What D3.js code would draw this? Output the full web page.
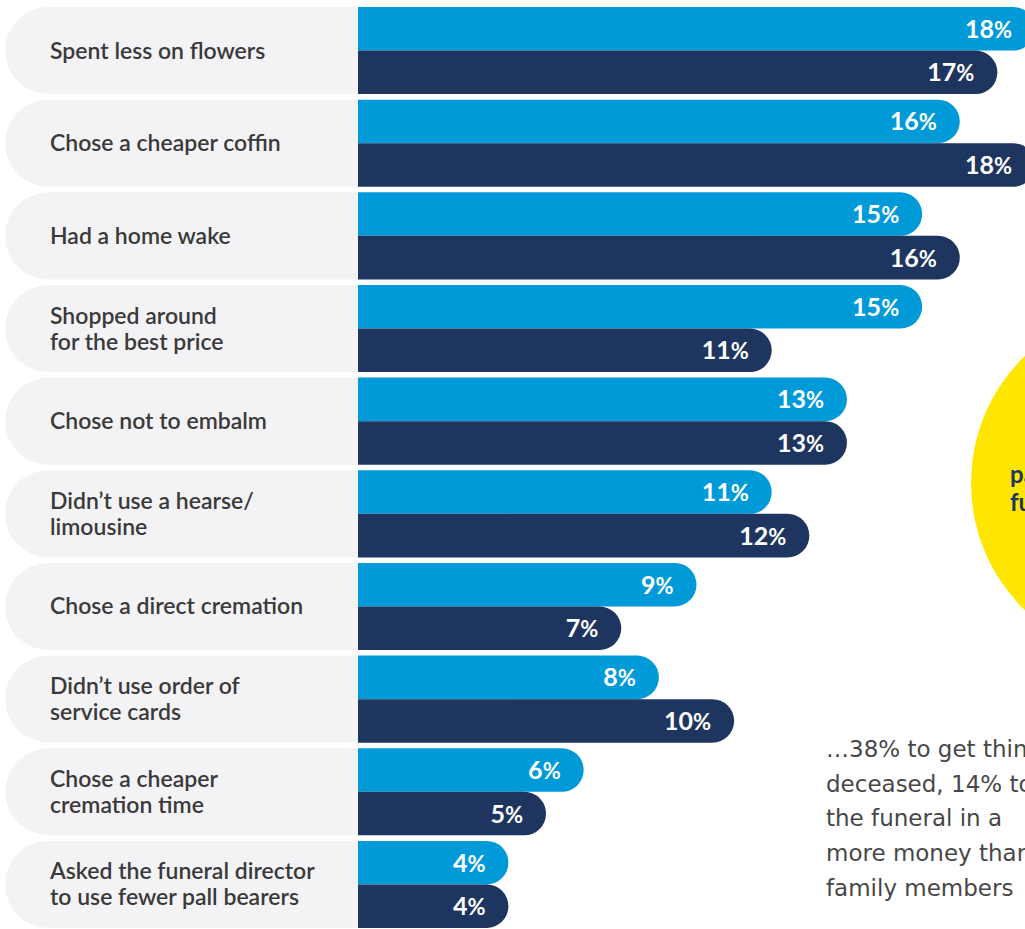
<!DOCTYPE html>
<html>
<head>
<meta charset="utf-8">
<script src="https://cdn.jsdelivr.net/npm/d3@7"></script>
<style>
  body { margin: 0; background: #fff; }
  svg { display: block; }
</style>
</head>
<body>
<div id="chart"></div>
<script>
// data
var categories = [
    "Spent less on flowers",
    "Chose a cheaper coffin",
    "Had a home wake",
    "Shopped around\nfor the best price",
    "Chose not to embalm",
    "Didn\u2019t use a hearse/\nlimousine",
    "Chose a direct cremation",
    "Didn\u2019t use order of\nservice cards",
    "Chose a cheaper\ncremation time",
    "Asked the funeral director\nto use fewer pall bearers"
];
var seriesNames = ["lightBlue", "navy"];
var lightBlueValues = [18, 16, 15, 15, 13, 11, 9, 8, 6, 4];
var navyValues = [17, 18, 16, 11, 13, 12, 7, 10, 5, 4];
var calloutLines = ["pay for the", "funeral"];
var noteLines = ["\u202638% to get things", "deceased, 14% to", "the funeral in a", "more money than", "family members"];

var svgWidth = 1025;
var svgHeight = 929;
var colors = { lightBlue: "#009ad9", navy: "#1e3560" };

var svg = d3.select("#chart")
    .append("svg")
    .attr("width", svgWidth)
    .attr("height", svgHeight);

var data = categories.map((c, i) => ({
    category: c,
    values: [
        { key: "lightBlue", value: lightBlueValues[i] },
        { key: "navy", value: navyValues[i] }
    ]
}));

// scales
var xScale = d3.scaleLinear()
    .domain([0, 18])
    .range([358, 1035]);

var yScale = d3.scaleBand()
    .domain(categories)
    .range([7, 928])
    .paddingInner(0.06)
    .paddingOuter(0);

var ySub = d3.scaleBand()
    .domain(seriesNames)
    .range([0, yScale.bandwidth()]);

// yellow callout circle (behind)
svg.append("circle")
    .attr("cx", 1148)
    .attr("cy", 483)
    .attr("r", 177)
    .attr("fill", "#ffe600");

svg.append("text")
    .attr("x", 1010)
    .attr("y", 483)
    .attr("fill", "#1e3560")
    .style("font-family", "Lato, sans-serif")
    .style("font-weight", 700)
    .style("font-size", "24px")
    .selectAll("tspan")
    .data(calloutLines)
    .enter()
    .append("tspan")
    .attr("x", 1010)
    .attr("dy", (d, i) => i === 0 ? 0 : 28)
    .text(d => d);

// note text bottom right
svg.append("text")
    .attr("x", 826)
    .attr("y", 757)
    .attr("fill", "#474747")
    .style("font-family", "'DejaVu Sans', sans-serif")
    .style("font-size", "23px")
    .selectAll("tspan")
    .data(noteLines)
    .enter()
    .append("tspan")
    .attr("x", 826)
    .attr("dy", (d, i) => i === 0 ? 0 : 34.7)
    .text(d => d);

// rows
var rows = svg.selectAll(".row")
    .data(data)
    .enter()
    .append("g")
    .attr("class", "row")
    .attr("transform", d => `translate(0, ${yScale(d.category)})`);

var h = yScale.bandwidth();

// grey label pill with rounded left end
rows.append("path")
    .attr("d", () => {
        var r = h / 2;
        var x0 = 5, x1 = xScale(0);
        return `M${x1},0 H${x0 + r} A${r},${r} 0 0 0 ${x0 + r},${h} H${x1} Z`;
    })
    .attr("fill", "#f3f3f5");

// category labels
rows.append("text")
    .attr("fill", "#3a3a3a")
    .style("font-family", "Lato, sans-serif")
    .style("font-weight", 600)
    .style("font-size", "23px")
    .each(function (d) {
        var lines = d.category.split("\n");
        var lh = 26;
        var first = h / 2 - (lines.length - 1) * lh / 2 + 8;
        d3.select(this).selectAll("tspan")
            .data(lines)
            .enter()
            .append("tspan")
            .attr("x", 50)
            .attr("y", (l, i) => first + i * lh)
            .text(l => l);
    });

// bars with rounded right end
function barPath(x0, x1, y, bh) {
    var r = bh / 2;
    return `M${x0},${y} H${x1 - r} A${r},${r} 0 0 1 ${x1 - r},${y + bh} H${x0} Z`;
}

var bars = rows.selectAll(".bar")
    .data(d => d.values)
    .enter()
    .append("g")
    .attr("class", "bar");

bars.append("path")
    .attr("d", d => barPath(xScale(0), xScale(d.value), ySub(d.key), ySub.bandwidth()))
    .attr("fill", d => colors[d.key]);

// value labels
var labels = bars.append("text")
    .attr("x", d => xScale(d.value) - 23)
    .attr("y", d => ySub(d.key) + ySub.bandwidth() / 2 + 9)
    .attr("text-anchor", "end")
    .attr("fill", "#ffffff")
    .style("font-family", "Lato, sans-serif")
    .style("font-weight", 700)
    .style("font-size", "25px");

labels.append("tspan").text(d => d.value);
labels.append("tspan").style("font-size", "22px").text("%");
</script>
</body>
</html>
